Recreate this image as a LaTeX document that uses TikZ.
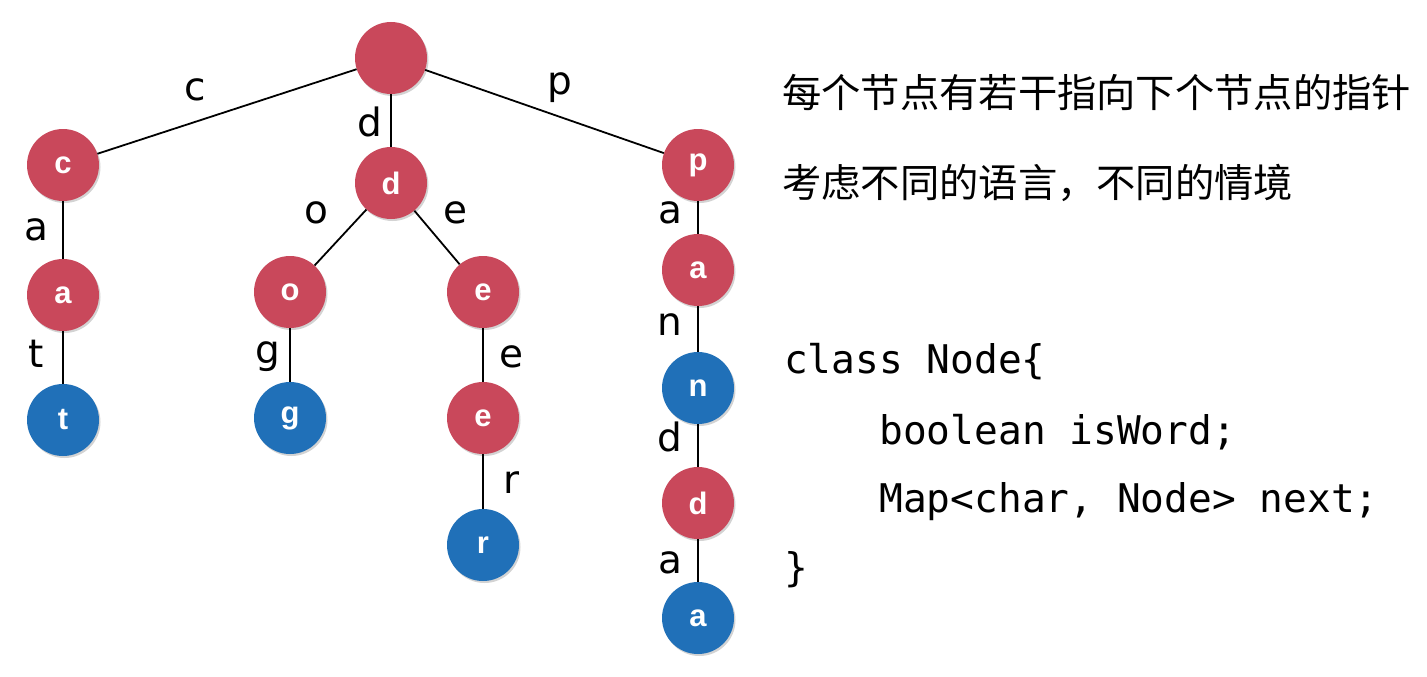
\documentclass[tikz,border=0pt]{standalone}
\usepackage{fontspec}
\setmainfont{DejaVu Sans}
\newfontfamily\cjkfont{Noto Sans CJK SC}
\newfontfamily\codefont{DejaVu Sans Mono}
\newfontfamily\nodefont{Liberation Sans}
\usetikzlibrary{shadows}
\definecolor{tred}{HTML}{C9485B}
\definecolor{tblue}{HTML}{2070B8}
\begin{document}
\begin{tikzpicture}[x=1pt,y=-1pt,
  tnode/.style={circle,minimum size=72pt,inner sep=0pt,text=white,
    font=\nodefont\bfseries\fontsize{31}{31}\selectfont,
    drop shadow={shadow xshift=1.5pt,shadow yshift=-2pt,opacity=0.35,fill=gray}},
  rednode/.style={tnode,fill=tred},
  bluenode/.style={tnode,fill=tblue},
  edge/.style={draw=black,line width=1.8pt},
  elabel/.style={font=\fontsize{39}{39}\selectfont,inner sep=0pt},
  cjk/.style={font=\cjkfont\fontsize{39.3}{39.3}\selectfont,anchor=west,inner sep=0pt},
  code/.style={font=\codefont\fontsize{39.5}{39.5}\selectfont,anchor=west,inner sep=0pt}]
\useasboundingbox (0,0) rectangle (1427,677);
% nodes
\node[rednode] (root) at (391,58) {};
\node[rednode] (c) at (63,165) {c};
\node[rednode] (d) at (391,183) {d};
\node[rednode] (p) at (698,165) {p};
\node[rednode] (ca) at (63,295) {a};
\node[bluenode] (cat) at (63,420) {t};
\node[rednode] (do) at (290,292) {o};
\node[bluenode] (dog) at (290,418) {g};
\node[rednode] (de) at (483,292) {e};
\node[rednode] (dee) at (483,418) {e};
\node[bluenode] (deer) at (483,545) {r};
\node[rednode] (pa) at (698,270) {a};
\node[bluenode] (pan) at (698,388) {n};
\node[rednode] (pand) at (698,503) {d};
\node[bluenode] (panda) at (698,618) {a};
% edges
\draw[edge] (root) -- (c);
\draw[edge] (root) -- (d);
\draw[edge] (root) -- (p);
\draw[edge] (c) -- (ca);
\draw[edge] (ca) -- (cat);
\draw[edge] (d) -- (do);
\draw[edge] (d) -- (de);
\draw[edge] (do) -- (dog);
\draw[edge] (de) -- (dee);
\draw[edge] (dee) -- (deer);
\draw[edge] (p) -- (pa);
\draw[edge] (pa) -- (pan);
\draw[edge] (pan) -- (pand);
\draw[edge] (pand) -- (panda);
% edge labels
\node[elabel] (lc) at (195,90) {c};
\node[elabel] (lp) at (560,88) {p};
\node[elabel] (ld) at (370,122) {d};
\node[elabel] (lo) at (316,213) {o};
\node[elabel] (le) at (455,213) {e};
\node[elabel] (la) at (36,230) {a};
\node[elabel] (lt) at (36,354) {t};
\node[elabel] (lg) at (268,357) {g};
\node[elabel] (lee) at (511,357) {e};
\node[elabel] (lr) at (512,483) {r};
\node[elabel] (lpa) at (670,213) {a};
\node[elabel] (ln) at (670,325) {n};
\node[elabel] (lpd) at (670,437) {d};
\node[elabel] (lpa2) at (670,563) {a};
% right text
\node[cjk] (t1) at (782,92) {每个节点有若干指向下个节点的指针};
\node[cjk] (t2) at (782,183) {考虑不同的语言，不同的情境};
\node[code] (k1) at (784,362) {class Node\{};
\node[code] (k2) at (784,432) {\ \ \ \ boolean isWord;};
\node[code] (k3) at (784,502) {\ \ \ \ Map<char, Node> next;};
\node[code] (k4) at (784,570) {\}};
\end{tikzpicture}
\end{document}
